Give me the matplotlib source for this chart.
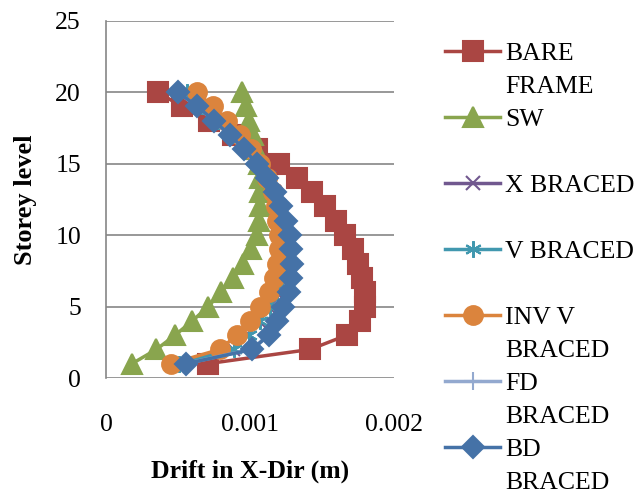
import numpy as np
import matplotlib; matplotlib.use('Agg')
import matplotlib.pyplot as plt
from matplotlib.lines import Line2D

# storey levels and drift (m) per model
STOREY = np.arange(1, 21)
BARE = [0.000705, 0.001418, 0.001673, 0.001766, 0.001800, 0.001796, 0.001780, 0.001752, 0.001713, 0.001662,
        0.001600, 0.001523, 0.001434, 0.001326, 0.001198, 0.001047, 0.000885, 0.000713, 0.000526, 0.000359]
SW = [0.000180, 0.000350, 0.000480, 0.000600, 0.000710, 0.000800, 0.000880, 0.000950, 0.001010, 0.001050,
      0.001060, 0.001070, 0.001070, 0.001070, 0.001060, 0.001045, 0.001020, 0.000995, 0.000970, 0.000945]
XBR = [0.000500, 0.000880, 0.000980, 0.001060, 0.001130, 0.001180, 0.001210, 0.001230, 0.001240, 0.001240,
       0.001220, 0.001200, 0.001170, 0.001130, 0.001060, 0.000980, 0.000890, 0.000790, 0.000690, 0.000570]
VBR = [0.000510, 0.000890, 0.000990, 0.001070, 0.001140, 0.001190, 0.001220, 0.001240, 0.001250, 0.001245,
       0.001225, 0.001200, 0.001165, 0.001120, 0.001050, 0.000970, 0.000880, 0.000780, 0.000670, 0.000560]
INVV = [0.000450, 0.000790, 0.000910, 0.001000, 0.001070, 0.001130, 0.001170, 0.001190, 0.001200, 0.001200,
        0.001190, 0.001180, 0.001160, 0.001120, 0.001070, 0.001006, 0.000930, 0.000840, 0.000740, 0.000630]
FDBR = [0.000550, 0.001010, 0.001125, 0.001185, 0.001225, 0.001262, 0.001280, 0.001286, 0.001282, 0.001272,
        0.001248, 0.001214, 0.001172, 0.001118, 0.001045, 0.000958, 0.000858, 0.000748, 0.000633, 0.000497]
BD = [0.000554, 0.001017, 0.001130, 0.001190, 0.001230, 0.001268, 0.001284, 0.001290, 0.001286, 0.001275,
      0.001250, 0.001217, 0.001175, 0.001120, 0.001047, 0.000960, 0.000860, 0.000750, 0.000635, 0.000498]

# (legend text as wrapped by Excel: first row, second row)
NAMES = [('BARE', 'FRAME'), ('SW', ''), ('X BRACED', ''), ('V BRACED', ''),
         ('INV V', 'BRACED'), ('FD', 'BRACED'), ('BD', 'BRACED')]
VALUES = [BARE, SW, XBR, VBR, INVV, FDBR, BD]
COLORS = ['#AA4643', '#89A54E', '#71588F', '#4198AF', '#DB843D', '#93A9CF', '#4572A7']
MARKERS = ['s', '^', 'x', (6, 2, 0), 'o', '+', 'D']
MSIZES = [14, 14, 10, 12, 13.5, 13, 11]

plt.rcParams['font.family'] = ['Liberation Serif', 'DejaVu Serif']
fig = plt.figure(figsize=(6.38, 4.98), dpi=100)
ax = fig.add_axes([106/638, 1-378/498, 288/638, 357.3/498])

handles, labels = [], []
blank = Line2D([], [], ls='none')
for (first, second), vals, col, mk, ms in zip(NAMES, VALUES, COLORS, MARKERS, MSIZES):
    ln, = ax.plot(vals, STOREY, color=col, lw=2.5, marker=mk, ms=ms,
                  mfc=col, mec=col, mew=1.5, label=' '.join([first, second]).strip(),
                  solid_joinstyle='round')
    # each entry takes two legend rows, the second one holds the wrapped text
    handles += [ln, blank]
    labels += [first, second]

ax.set_xlim(0, 0.002)
ax.set_ylim(0, 25)
ax.set_xticks([0, 0.001, 0.002])
ax.set_xticklabels(['0', '0.001', '0.002'])
ax.set_yticks(range(0, 26, 5))
ax.tick_params(axis='both', length=0, labelsize=18.5)
ax.tick_params(axis='x', pad=26)
ax.tick_params(axis='y', pad=18)
ax.yaxis.grid(True, color='#868686', lw=1.2)
ax.set_axisbelow(True)
for s in ['top', 'right', 'bottom']:
    ax.spines[s].set_visible(False)
ax.spines['left'].set_color('#868686')
ax.spines['left'].set_linewidth(1.2)

ax.set_xlabel('Drift in X-Dir (m)', fontsize=18.5, fontweight='bold', labelpad=17)
ax.set_ylabel('Storey level', fontsize=19, fontweight='bold', labelpad=13)

fig.legend(handles=handles, labels=labels, loc='upper left', bbox_to_anchor=(445/638, 1-42/498),
           frameon=False, fontsize=18.5, handlelength=2.15, handletextpad=0.2,
           borderpad=0, borderaxespad=0, labelspacing=0.39)

fig.savefig('out.png', dpi=100)
